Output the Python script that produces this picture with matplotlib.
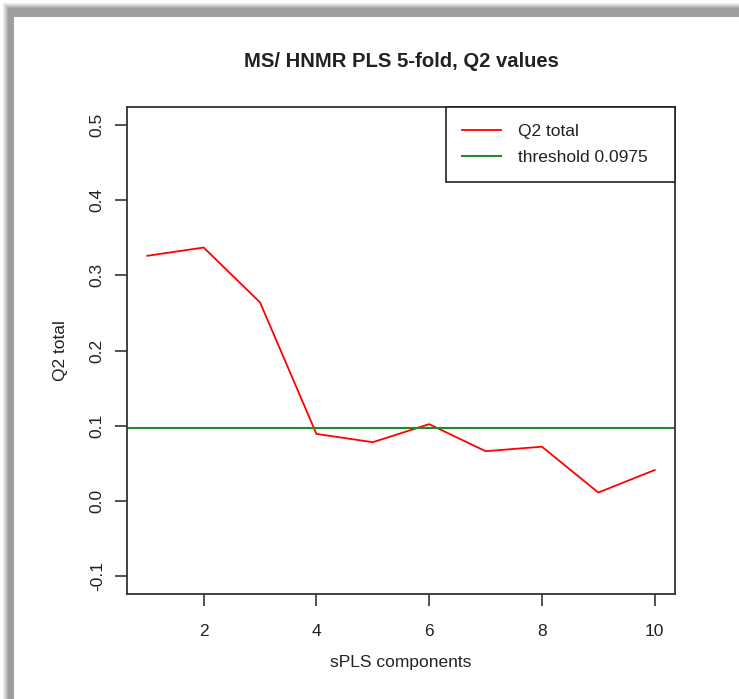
import numpy as np
import matplotlib
matplotlib.use("Agg")
import matplotlib.pyplot as plt

plt.rcParams['font.family'] = ['Liberation Sans', 'DejaVu Sans']

# Q2 values per number of sPLS components
components = [1, 2, 3, 4, 5, 6, 7, 8, 9, 10]
q2_total = [0.326, 0.337, 0.264, 0.089, 0.078, 0.102, 0.066, 0.072, 0.011, 0.041]
threshold = 0.0975
y_ticks = [-0.1, 0.0, 0.1, 0.2, 0.3, 0.4, 0.5]
x_ticks = [2, 4, 6, 8, 10]

W, H = 739, 699
fig = plt.figure(figsize=(W / 100, H / 100), dpi=100)


# screenshot drop shadow along top and left edges
def shadowImage():
    img = np.ones((H, W, 3))
    prof = np.ones(20)
    for i in range(20):
        if i < 3:
            prof[i] = 1.0
        elif i < 9:
            prof[i] = 1.0 - 0.38 * (i - 2) / 6
        else:
            prof[i] = 0.62
    top = 17
    left = 14
    for y in range(top):
        img[y, left:, :] = prof[y]
    for x in range(left):
        img[top:, x, :] = prof[x]
        for y in range(top):
            img[y, x, :] = max(prof[x], prof[y])
    return img


fig.figimage(shadowImage(), xo=0, yo=0, origin='upper', zorder=-5)

ax = fig.add_axes([127 / W, 1 - 594 / H, 548 / W, 487 / H])
ax.patch.set_alpha(0)

ax.plot(components, q2_total, color='#ff0000', lw=1.3, label='Q2 total')
ax.axhline(threshold, color='#228b22', lw=1.5, label='threshold 0.0975')

pad_x = 0.04 * (max(components) - min(components))
ax.set_xlim(min(components) - pad_x, max(components) + pad_x)
ax.set_ylim(-0.1 - 0.024, 0.5 + 0.024)
ax.set_xticks(x_ticks)
ax.set_yticks(y_ticks)
ax.set_yticklabels(['%.1f' % v for v in y_ticks], rotation=90, va='center')

fs = 12.5
txt = '#222222'
for s in ax.spines.values():
    s.set_linewidth(1.3)
    s.set_color('#333333')
ax.tick_params(direction='out', length=8.5, width=1.2, color='#333333',
               labelsize=fs, labelcolor=txt)
ax.tick_params(axis='x', pad=13)
ax.tick_params(axis='y', pad=7.5)

ax.set_xlabel('sPLS components', fontsize=fs, color=txt, va='center')
ax.xaxis.set_label_coords(0.5, (594 - 663) / 487)
ax.set_ylabel('Q2 total', fontsize=fs, color=txt, va='center')
ax.yaxis.set_label_coords((60 - 127) / 548, 0.5)
ax.set_title('MS/ HNMR PLS 5-fold, Q2 values', fontsize=14.6, fontweight='bold',
             color=txt, y=(594 - 70) / 487, va='center')

# legend box spans the right part of the top edge, like R's "topright"
leg_x0 = (446 - 127) / 548
leg = ax.legend(loc='upper right', bbox_to_anchor=(leg_x0, 0, 1 - leg_x0, 1),
                mode='expand', borderaxespad=0,
                fancybox=False, fontsize=fs, handlelength=2.2, handletextpad=1.0,
                labelspacing=0.67, borderpad=0.95, framealpha=1)
leg.get_frame().set_edgecolor('#222222')
leg.get_frame().set_linewidth(1.2)
for t in leg.get_texts():
    t.set_color(txt)

plt.savefig('out.png', dpi=100)
